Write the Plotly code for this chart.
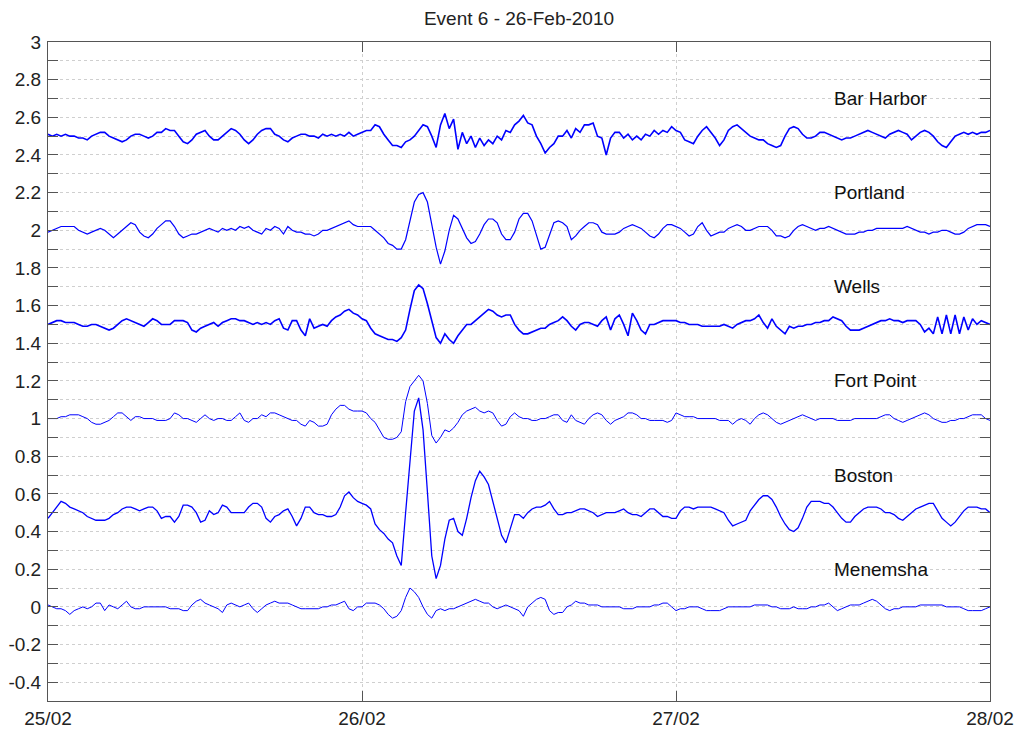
import pandas as pd
import plotly.graph_objects as go

# 20-minute samples from 25/02 00:00 to 28/02 00:00
time = pd.date_range("2010-02-25", periods=217, freq="20min")

bar_harbor = [
    2.51, 2.50, 2.51, 2.50, 2.51, 2.50, 2.50, 2.49, 2.49, 2.48,
    2.50, 2.51, 2.52, 2.52, 2.50, 2.49, 2.48, 2.47, 2.48, 2.50,
    2.51, 2.51, 2.50, 2.49, 2.50, 2.52, 2.52, 2.54, 2.53, 2.53,
    2.50, 2.47, 2.46, 2.48, 2.51, 2.52, 2.53, 2.50, 2.48, 2.48,
    2.50, 2.52, 2.54, 2.53, 2.51, 2.48, 2.46, 2.48, 2.51, 2.53,
    2.54, 2.54, 2.51, 2.50, 2.48, 2.47, 2.49, 2.50, 2.51, 2.51,
    2.50, 2.50, 2.49, 2.51, 2.50, 2.51, 2.50, 2.51, 2.50, 2.52,
    2.50, 2.51, 2.52, 2.53, 2.53, 2.56, 2.55, 2.51, 2.48, 2.45,
    2.45, 2.44, 2.47, 2.48, 2.50, 2.53, 2.56, 2.55, 2.50, 2.44,
    2.56, 2.62, 2.54, 2.59, 2.43, 2.52, 2.46, 2.50, 2.44, 2.49,
    2.45, 2.48, 2.46, 2.50, 2.48, 2.53, 2.52, 2.56, 2.58, 2.61,
    2.57, 2.56, 2.50, 2.46, 2.41, 2.44, 2.46, 2.50, 2.50, 2.53,
    2.49, 2.54, 2.52, 2.56, 2.56, 2.57, 2.50, 2.49, 2.40, 2.49,
    2.52, 2.52, 2.49, 2.51, 2.48, 2.50, 2.48, 2.51, 2.50, 2.53,
    2.51, 2.53, 2.52, 2.55, 2.53, 2.52, 2.48, 2.47, 2.46, 2.50,
    2.53, 2.55, 2.52, 2.49, 2.45, 2.48, 2.53, 2.55, 2.56, 2.54,
    2.52, 2.50, 2.49, 2.48, 2.48, 2.46, 2.45, 2.44, 2.45, 2.50,
    2.54, 2.55, 2.54, 2.51, 2.49, 2.49, 2.50, 2.52, 2.52, 2.51,
    2.50, 2.49, 2.48, 2.49, 2.49, 2.50, 2.51, 2.52, 2.53, 2.52,
    2.51, 2.50, 2.49, 2.51, 2.52, 2.53, 2.52, 2.51, 2.48, 2.50,
    2.52, 2.53, 2.52, 2.50, 2.47, 2.45, 2.44, 2.47, 2.50, 2.51,
    2.52, 2.51, 2.52, 2.51, 2.52, 2.52, 2.53,
]

portland = [
    1.99, 2.00, 2.01, 2.02, 2.02, 2.02, 2.02, 2.00, 1.99, 1.98,
    1.99, 2.00, 2.01, 2.00, 1.98, 1.96, 1.98, 2.00, 2.02, 2.04,
    2.03, 1.99, 1.97, 1.96, 1.98, 2.01, 2.03, 2.05, 2.05, 2.02,
    1.98, 1.96, 1.97, 1.98, 1.98, 1.99, 2.00, 2.01, 2.00, 1.99,
    2.01, 2.00, 2.01, 2.00, 2.02, 2.01, 2.02, 2.00, 1.99, 1.98,
    2.01, 2.00, 2.02, 2.01, 1.98, 2.02, 2.00, 1.99, 1.99, 1.98,
    1.98, 1.97, 1.98, 2.00, 2.00, 2.01, 2.02, 2.03, 2.04, 2.05,
    2.03, 2.02, 2.02, 2.02, 2.02, 2.00, 1.98, 1.96, 1.93, 1.92,
    1.90, 1.90, 1.95, 2.05, 2.15, 2.19, 2.20, 2.15, 2.02, 1.91,
    1.82, 1.89, 2.00, 2.08, 2.06, 2.01, 1.96, 1.93, 1.94, 1.98,
    2.03, 2.06, 2.06, 2.04, 1.98, 1.95, 1.95, 1.99, 2.06, 2.09,
    2.09, 2.05, 1.97, 1.90, 1.91, 1.98, 2.04, 2.05, 2.04, 2.02,
    1.95, 1.97, 2.00, 2.02, 2.04, 2.04, 2.03, 1.99, 1.98, 1.98,
    1.98, 1.99, 2.01, 2.02, 2.03, 2.02, 2.01, 1.99, 1.97, 1.96,
    1.98, 2.01, 2.03, 2.03, 2.02, 2.01, 1.99, 1.97, 1.98, 2.02,
    2.04, 2.00, 1.97, 1.98, 1.99, 1.99, 2.01, 2.02, 2.03, 2.02,
    2.00, 2.00, 2.01, 2.02, 2.02, 2.02, 2.00, 1.97, 1.97, 1.96,
    1.97, 2.00, 2.02, 2.03, 2.02, 2.01, 2.00, 2.01, 2.01, 2.02,
    2.01, 2.00, 1.99, 1.98, 1.98, 1.98, 1.99, 1.99, 2.00, 2.00,
    2.01, 2.01, 2.01, 2.01, 2.01, 2.01, 2.01, 2.02, 2.01, 2.00,
    1.99, 1.99, 1.98, 1.99, 1.99, 2.00, 2.00, 1.99, 1.98, 1.98,
    1.99, 2.01, 2.02, 2.03, 2.03, 2.03, 2.02,
]

wells = [
    1.50, 1.51, 1.52, 1.52, 1.51, 1.51, 1.51, 1.50, 1.49, 1.49,
    1.50, 1.50, 1.49, 1.48, 1.47, 1.48, 1.50, 1.52, 1.53, 1.52,
    1.51, 1.50, 1.49, 1.51, 1.53, 1.52, 1.50, 1.50, 1.50, 1.52,
    1.52, 1.52, 1.51, 1.47, 1.46, 1.48, 1.49, 1.50, 1.51, 1.49,
    1.51, 1.52, 1.53, 1.53, 1.52, 1.52, 1.51, 1.50, 1.51, 1.50,
    1.51, 1.50, 1.52, 1.53, 1.48, 1.47, 1.52, 1.52, 1.47, 1.44,
    1.53, 1.48, 1.49, 1.50, 1.49, 1.52, 1.54, 1.55, 1.57, 1.58,
    1.56, 1.55, 1.53, 1.52, 1.48, 1.45, 1.44, 1.43, 1.42, 1.42,
    1.41, 1.43, 1.47, 1.58, 1.68, 1.71, 1.69, 1.61, 1.52, 1.43,
    1.40, 1.45, 1.42, 1.40, 1.44, 1.47, 1.50, 1.50, 1.52, 1.54,
    1.56, 1.58, 1.57, 1.55, 1.54, 1.55, 1.55, 1.50, 1.47, 1.45,
    1.45, 1.46, 1.47, 1.48, 1.48, 1.50, 1.51, 1.52, 1.54, 1.52,
    1.49, 1.47, 1.50, 1.51, 1.51, 1.50, 1.49, 1.52, 1.54, 1.47,
    1.53, 1.55, 1.50, 1.44, 1.56, 1.52, 1.47, 1.45, 1.50, 1.50,
    1.51, 1.52, 1.52, 1.52, 1.52, 1.51, 1.51, 1.50, 1.50, 1.50,
    1.49, 1.49, 1.49, 1.49, 1.49, 1.50, 1.49, 1.48, 1.50, 1.51,
    1.52, 1.52, 1.53, 1.55, 1.51, 1.48, 1.53, 1.49, 1.47, 1.45,
    1.49, 1.48, 1.49, 1.49, 1.50, 1.50, 1.51, 1.51, 1.52, 1.52,
    1.54, 1.53, 1.52, 1.49, 1.47, 1.47, 1.47, 1.48, 1.49, 1.50,
    1.51, 1.52, 1.52, 1.53, 1.52, 1.52, 1.51, 1.52, 1.52, 1.52,
    1.50, 1.46, 1.48, 1.45, 1.54, 1.45, 1.55, 1.45, 1.55, 1.45,
    1.54, 1.47, 1.53, 1.50, 1.52, 1.51, 1.50,
]

fort_point = [
    1.00, 1.00, 1.00, 1.01, 1.01, 1.02, 1.02, 1.02, 1.01, 1.00,
    0.98, 0.97, 0.97, 0.98, 0.99, 1.01, 1.03, 1.03, 1.01, 0.99,
    1.01, 1.01, 1.00, 1.00, 1.00, 0.99, 0.99, 0.99, 1.00, 1.03,
    1.02, 1.00, 1.00, 0.99, 0.98, 1.00, 1.02, 1.00, 0.99, 1.00,
    1.00, 0.99, 0.99, 1.01, 1.03, 0.99, 0.98, 1.00, 1.00, 1.02,
    1.01, 1.03, 1.03, 1.02, 1.01, 1.00, 0.99, 0.99, 0.97, 0.96,
    0.99, 0.98, 0.96, 0.96, 0.97, 1.02, 1.05, 1.07, 1.07, 1.05,
    1.04, 1.04, 1.04, 1.03, 1.00, 0.98, 0.94, 0.90, 0.89, 0.89,
    0.90, 0.93, 1.09, 1.17, 1.20, 1.23, 1.20, 1.08, 0.91, 0.87,
    0.90, 0.94, 0.93, 0.95, 0.98, 1.02, 1.04, 1.05, 1.06, 1.04,
    1.03, 1.04, 1.03, 0.99, 0.96, 0.97, 1.01, 1.03, 1.01, 1.00,
    1.00, 0.99, 0.99, 1.00, 1.00, 1.01, 1.02, 1.02, 0.99, 0.98,
    1.02, 0.99, 0.98, 0.97, 1.00, 1.02, 1.03, 1.02, 0.99, 0.97,
    0.99, 1.00, 1.01, 1.03, 1.03, 1.02, 1.00, 1.00, 0.99, 0.99,
    0.99, 0.99, 0.98, 0.99, 1.03, 1.02, 1.01, 1.01, 1.01, 1.00,
    1.00, 1.00, 1.00, 1.00, 0.99, 0.99, 0.99, 0.97, 0.99, 1.00,
    0.99, 0.97, 1.00, 1.02, 1.03, 1.02, 1.00, 0.98, 0.97, 0.98,
    0.99, 1.00, 1.01, 1.02, 1.01, 1.00, 0.99, 1.00, 1.00, 1.00,
    1.00, 0.99, 0.99, 0.99, 0.99, 1.00, 1.00, 1.00, 1.00, 1.00,
    1.00, 1.01, 1.02, 1.02, 1.00, 0.99, 0.98, 0.99, 1.00, 1.01,
    1.02, 1.03, 1.02, 1.00, 0.99, 0.98, 0.98, 0.99, 0.99, 1.00,
    1.00, 1.01, 1.02, 1.02, 1.02, 1.00, 0.99,
]

boston = [
    0.47, 0.50, 0.53, 0.56, 0.55, 0.53, 0.52, 0.51, 0.50, 0.48,
    0.47, 0.46, 0.46, 0.46, 0.47, 0.49, 0.50, 0.52, 0.53, 0.53,
    0.52, 0.51, 0.52, 0.53, 0.53, 0.51, 0.47, 0.48, 0.48, 0.45,
    0.48, 0.54, 0.54, 0.53, 0.50, 0.45, 0.46, 0.51, 0.49, 0.50,
    0.54, 0.53, 0.50, 0.50, 0.50, 0.50, 0.53, 0.55, 0.55, 0.53,
    0.47, 0.45, 0.48, 0.49, 0.51, 0.52, 0.48, 0.43, 0.47, 0.53,
    0.53, 0.50, 0.49, 0.49, 0.48, 0.48, 0.49, 0.53, 0.59, 0.61,
    0.58, 0.56, 0.55, 0.54, 0.52, 0.44, 0.41, 0.39, 0.36, 0.34,
    0.27, 0.22, 0.50, 0.79, 1.04, 1.11, 0.94, 0.61, 0.27, 0.15,
    0.22, 0.36, 0.46, 0.47, 0.40, 0.38, 0.47, 0.58, 0.67, 0.72,
    0.69, 0.65, 0.56, 0.46, 0.38, 0.34, 0.41, 0.49, 0.49, 0.47,
    0.50, 0.52, 0.53, 0.53, 0.54, 0.56, 0.52, 0.49, 0.49, 0.50,
    0.50, 0.51, 0.52, 0.52, 0.51, 0.50, 0.48, 0.49, 0.50, 0.50,
    0.50, 0.51, 0.52, 0.50, 0.49, 0.49, 0.48, 0.50, 0.52, 0.52,
    0.50, 0.48, 0.48, 0.47, 0.47, 0.51, 0.53, 0.53, 0.52, 0.53,
    0.53, 0.53, 0.53, 0.52, 0.51, 0.50, 0.46, 0.43, 0.44, 0.45,
    0.46, 0.51, 0.54, 0.57, 0.59, 0.59, 0.57, 0.53, 0.48, 0.44,
    0.41, 0.40, 0.42, 0.47, 0.53, 0.56, 0.56, 0.56, 0.55, 0.55,
    0.53, 0.50, 0.47, 0.45, 0.45, 0.48, 0.50, 0.52, 0.53, 0.53,
    0.53, 0.52, 0.50, 0.50, 0.49, 0.47, 0.46, 0.48, 0.50, 0.52,
    0.53, 0.54, 0.55, 0.55, 0.51, 0.47, 0.45, 0.43, 0.45, 0.48,
    0.51, 0.53, 0.53, 0.53, 0.52, 0.52, 0.50,
]

menemsha = [
    0.01, 0.00, -0.01, -0.01, -0.02, -0.04, -0.02, -0.01, 0.00, -0.01,
    0.00, 0.02, 0.02, -0.02, 0.01, 0.00, -0.01, 0.01, 0.03, 0.00,
    -0.01, -0.01, 0.00, 0.00, 0.00, 0.00, 0.00, 0.00, -0.01, -0.01,
    -0.01, -0.02, -0.02, 0.01, 0.03, 0.04, 0.02, 0.01, 0.00, -0.01,
    -0.03, 0.01, 0.02, 0.01, 0.00, 0.01, 0.02, -0.01, -0.03, -0.01,
    0.01, 0.02, 0.03, 0.02, 0.02, 0.02, 0.01, 0.00, -0.01, -0.01,
    -0.01, -0.01, -0.01, 0.00, 0.00, 0.01, 0.01, 0.02, 0.03, -0.01,
    -0.02, 0.00, 0.00, 0.02, 0.02, 0.02, 0.01, -0.01, -0.04, -0.06,
    -0.05, -0.02, 0.05, 0.10, 0.08, 0.05, 0.00, -0.04, -0.06, -0.02,
    -0.01, -0.02, -0.01, -0.01, 0.00, 0.01, 0.02, 0.03, 0.04, 0.03,
    0.02, 0.02, 0.00, -0.01, 0.00, 0.01, 0.00, -0.01, -0.02, -0.05,
    0.00, 0.02, 0.04, 0.05, 0.04, -0.02, -0.04, -0.03, -0.03, 0.00,
    0.01, 0.03, 0.02, 0.02, 0.01, 0.01, 0.01, 0.00, 0.00, 0.00,
    0.00, 0.00, -0.01, -0.01, -0.01, 0.00, 0.00, 0.00, 0.00, 0.01,
    0.01, 0.02, 0.02, 0.00, -0.02, -0.01, -0.01, 0.00, 0.00, 0.00,
    -0.01, -0.02, -0.02, -0.02, -0.02, -0.01, 0.00, 0.00, 0.00, 0.00,
    0.00, 0.00, 0.01, 0.01, 0.01, 0.01, 0.00, 0.00, -0.01, -0.01,
    -0.01, 0.00, -0.01, -0.01, -0.01, 0.00, 0.00, 0.01, 0.01, 0.02,
    0.00, -0.02, -0.01, 0.00, 0.01, 0.01, 0.01, 0.02, 0.03, 0.04,
    0.03, 0.01, -0.01, -0.02, -0.01, -0.01, 0.00, 0.00, 0.00, 0.00,
    0.01, 0.01, 0.01, 0.01, 0.01, 0.01, 0.00, 0.00, 0.00, 0.00,
    -0.01, -0.02, -0.02, -0.02, -0.02, -0.01, 0.00,
]

station_names = ["Bar Harbor", "Portland", "Wells", "Fort Point", "Boston", "Menemsha"]
label_y = [2.7, 2.2, 1.7, 1.2, 0.7, 0.2]
label_x = "2010-02-27 12:00"

x_tick_vals = ["2010-02-25", "2010-02-26", "2010-02-27", "2010-02-28"]
x_tick_text = ["25/02", "26/02", "27/02", "28/02"]
y_tick_vals = [3, 2.8, 2.6, 2.4, 2.2, 2, 1.8, 1.6, 1.4, 1.2, 1, 0.8, 0.6, 0.4, 0.2, 0, -0.2, -0.4]
y_tick_text = ["3", "2.8", "2.6", "2.4", "2.2", "2", "1.8", "1.6", "1.4", "1.2", "1",
               "0.8", "0.6", "0.4", "0.2", "0", "-0.2", "-0.4"]

series = [bar_harbor, portland, wells, fort_point, boston, menemsha]
widths = [1.6, 1.2, 1.6, 1.0, 1.3, 1.0]

FONT = "Liberation Sans, Arial, Helvetica, sans-serif"
BLUE = "#0000ff"
GRID = "#cfcfcf"

fig = go.Figure()
for name, vals, w in zip(station_names, series, widths):
    fig.add_trace(go.Scatter(x=time, y=vals, mode="lines", name=name,
                             line=dict(color=BLUE, width=w), showlegend=False))

for name, yv in zip(station_names, label_y):
    fig.add_annotation(x=label_x, y=yv, text=name, showarrow=False,
                       xanchor="left", yanchor="middle", borderpad=0,
                       font=dict(family=FONT, size=19, color="#111"))

fig.update_layout(
    width=1018, height=731,
    margin=dict(l=48, r=28, t=42, b=30, pad=0, autoexpand=False),
    paper_bgcolor="white", plot_bgcolor="white",
    font=dict(family=FONT, size=19, color="#222"),
    title=dict(text="Event 6 - 26-Feb-2010", x=0.5, xref="paper", xanchor="center",
               y=1 - 18 / 731, yref="container", yanchor="middle",
               font=dict(family=FONT, size=19, color="#222")),
    xaxis=dict(type="date", range=[x_tick_vals[0], x_tick_vals[-1]], automargin=False,
               tickmode="array", tickvals=x_tick_vals, ticktext=x_tick_text,
               ticks="inside", ticklen=10, tickcolor="#555", ticklabelstandoff=0,
               showline=True, linecolor="#555", linewidth=1, mirror="ticks",
               zeroline=False, tickfont=dict(size=19),
               showgrid=True, gridcolor=GRID, gridwidth=1, griddash="dot"),
    yaxis=dict(range=[-0.5, 3], automargin=False,
               tickmode="array", tickvals=y_tick_vals, ticktext=y_tick_text,
               ticks="inside", ticklen=10, tickcolor="#555", ticklabelstandoff=2,
               showline=True, linecolor="#555", linewidth=1, mirror="ticks",
               zeroline=False, tickfont=dict(size=19),
               showgrid=True, gridcolor=GRID, gridwidth=1, griddash="dot",
               minor=dict(tick0=0, dtick=0.1, ticks="inside", ticklen=10, tickcolor="#555",
                          showgrid=True, gridcolor=GRID, gridwidth=1, griddash="dot")),
)

fig.write_html("out.html")
